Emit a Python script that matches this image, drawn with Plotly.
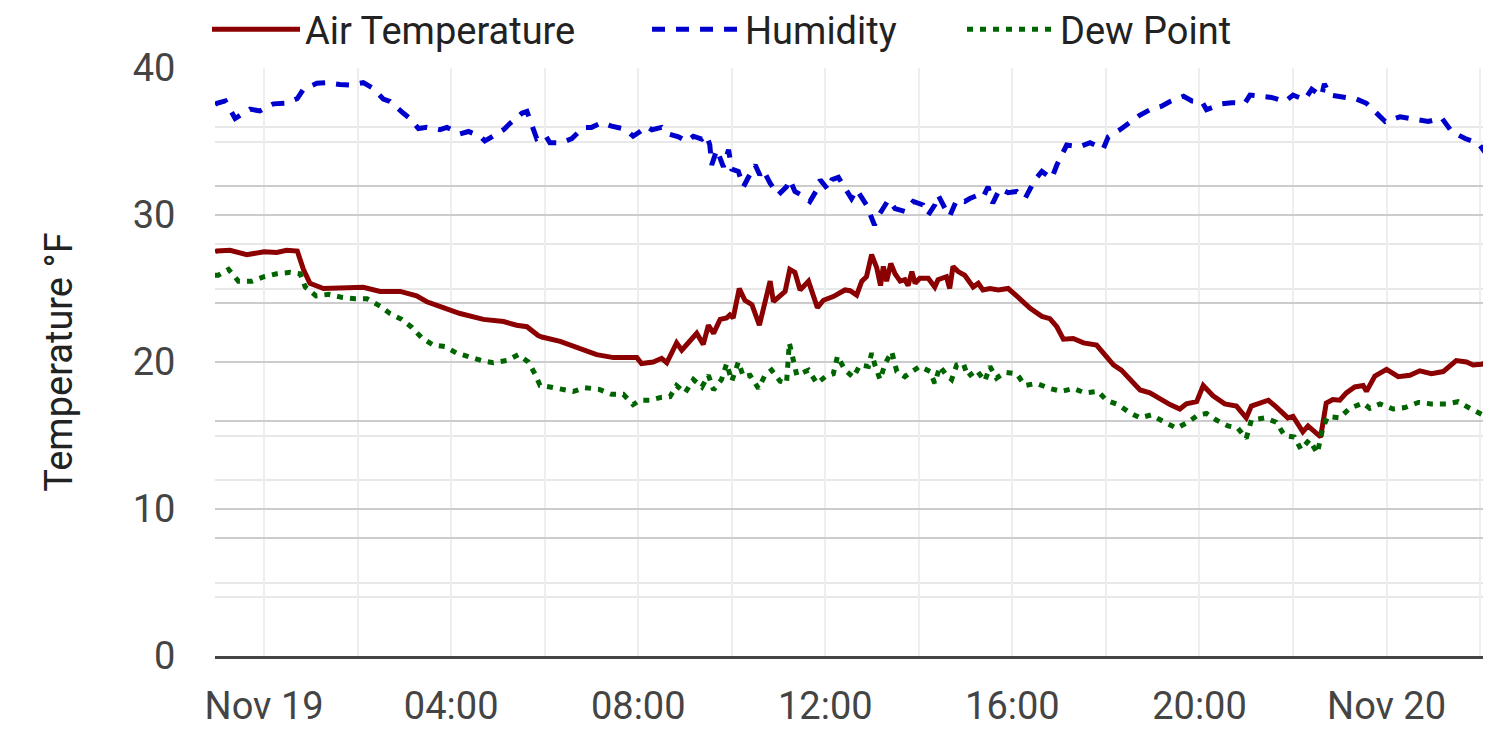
import pandas as pd
import plotly.graph_objects as go

# Reference midnight of Nov 19; sample times are hours relative to it
BASE = "2024-11-19 00:00"

TEMP_HOURS = [-1.05, -1.01, -0.73, -0.37, 0.00, 0.27, 0.48, 0.71, 0.84, 0.98, 1.27, 1.70, 2.12, 2.48, 2.91,
              3.26, 3.48, 3.83, 4.19, 4.69, 5.12, 5.40, 5.62, 5.86, 5.94, 6.33, 6.76, 7.11, 7.47, 7.82,
              7.97, 8.07, 8.32, 8.50, 8.61, 8.82, 8.93, 9.25, 9.39, 9.50, 9.61, 9.75, 9.89, 9.96, 10.03,
              10.16, 10.28, 10.43, 10.59, 10.82, 10.89, 11.14, 11.24, 11.35, 11.46, 11.64, 11.83, 11.96,
              12.17, 12.42, 12.53, 12.67, 12.78, 12.88, 12.99, 13.10, 13.18, 13.24, 13.31, 13.40, 13.49,
              13.60, 13.70, 13.77, 13.85, 13.92, 14.02, 14.20, 14.34, 14.41, 14.59, 14.66, 14.73, 14.84,
              14.98, 15.16, 15.27, 15.37, 15.52, 15.70, 15.91, 16.09, 16.38, 16.63, 16.80, 16.95, 17.09,
              17.30, 17.52, 17.80, 17.94, 18.16, 18.33, 18.51, 18.73, 18.94, 19.15, 19.37, 19.58, 19.72,
              19.94, 20.08, 20.29, 20.54, 20.79, 21.00, 21.11, 21.32, 21.47, 21.64, 21.89, 22.00, 22.21,
              22.32, 22.46, 22.59, 22.71, 22.85, 23.00, 23.14, 23.32, 23.50, 23.57, 23.75, 24.00, 24.25,
              24.50, 24.71, 24.96, 25.21, 25.49, 25.71, 25.85, 26.03, 26.23]
AIR_TEMP = [27.5, 27.55, 27.6, 27.3, 27.5, 27.45, 27.6, 27.55, 26.3, 25.35, 25.0, 25.0, 25.08, 24.8, 24.8,
            24.5, 24.1, 23.7, 23.3, 22.9, 22.75, 22.5, 22.4, 21.8, 21.7, 21.4, 20.9, 20.5, 20.3, 20.25,
            20.3, 19.9, 20.0, 20.25, 19.95, 21.3, 20.8, 21.95, 21.2, 22.5, 21.95, 22.9, 23.0, 23.2, 23.0,
            25.0, 24.2, 23.9, 22.5, 25.5, 24.1, 24.8, 26.3, 26.1, 24.9, 25.5, 23.7, 24.2,
            24.45, 24.9, 24.85, 24.55, 25.5, 25.8, 27.3, 26.4, 25.2, 26.5, 25.5, 26.7, 26.0,
            25.5, 25.6, 25.2, 26.15, 25.35, 25.7, 25.7, 25.1, 25.6, 25.8, 25.0, 26.5, 26.15,
            25.9, 25.1, 25.35, 24.9, 25.0, 24.9, 25.0, 24.5, 23.65, 23.1, 22.95, 22.4, 21.55,
            21.6, 21.3, 21.15, 20.6, 19.8, 19.45, 18.8, 18.1, 17.9, 17.5, 17.1, 16.8, 17.15,
            17.3, 18.4, 17.7, 17.15, 17.0, 16.2, 17.0, 17.2, 17.4, 16.95, 16.2, 16.3, 15.25,
            15.65, 15.25, 14.9, 17.2, 17.45, 17.4, 17.9, 18.3, 18.4, 18.0, 19.05, 19.5, 19.0,
            19.1, 19.4, 19.2, 19.35, 20.1, 20.0, 19.8, 19.85, 20.0]

HUM_HOURS = [-1.05, -1.01, -0.83, -0.62, -0.30, -0.09, 0.20, 0.45, 0.71, 0.84, 1.13, 1.34, 1.62, 1.84, 2.12,
             2.34, 2.55, 2.69, 2.98, 3.12, 3.30, 3.48, 3.76, 3.91, 4.19, 4.37, 4.62, 4.72, 4.87, 5.12,
             5.26, 5.51, 5.62, 5.72, 5.83, 6.01, 6.11, 6.36, 6.58, 6.83, 7.00, 7.22, 7.43, 7.72, 7.89,
             8.04, 8.18, 8.29, 8.50, 8.64, 8.86, 9.04, 9.18, 9.36, 9.46, 9.53, 9.57, 9.68, 9.82, 9.93,
             10.00, 10.14, 10.25, 10.36, 10.50, 10.60, 10.67, 10.82, 10.99, 11.17, 11.24, 11.35, 11.49,
             11.67, 11.82, 11.89, 12.06, 12.14, 12.28, 12.38, 12.56, 12.67, 12.88, 13.05, 13.17, 13.35,
             13.49, 13.70, 13.88, 14.09, 14.20, 14.34, 14.41, 14.56, 14.66, 14.81, 14.98, 15.09, 15.27,
             15.37, 15.48, 15.58, 15.73, 15.91, 16.09, 16.27, 16.48, 16.63, 16.84, 16.95, 17.05, 17.16,
             17.44, 17.66, 17.94, 18.05, 18.30, 18.48, 18.73, 18.94, 19.19, 19.37, 19.55, 19.66, 19.84,
             20.05, 20.15, 20.48, 20.69, 20.97, 21.08, 21.33, 21.54, 21.83, 22.00, 22.25, 22.40, 22.61,
             22.67, 22.79, 23.04, 23.36, 23.57, 23.75, 23.97, 24.29, 24.61, 24.89, 25.18, 25.39, 25.68,
             25.96, 26.12, 26.23]
HUMIDITY = [93.8, 94.0, 94.4, 91.4, 93.0, 92.7, 93.9, 94.0, 94.8, 96.4, 97.4, 97.5, 97.2, 97.1, 97.5,
            96.5, 94.7, 94.3, 92.3, 91.4, 89.7, 89.9, 89.5, 89.9, 88.8, 89.2, 88.4, 87.6, 88.3, 89.5,
            90.6, 92.3, 92.6, 90.3, 88.0, 88.6, 87.3, 87.3, 88.0, 89.9, 89.9, 90.7, 90.1, 89.6, 88.4,
            89.2, 90.1, 89.5, 89.9, 88.8, 88.3, 87.5, 88.4, 87.9, 88.6, 86.9, 83.5, 86.1, 83.2, 86.1,
            82.8, 82.4, 79.8, 81.5, 83.5, 81.8, 82.7, 80.4, 78.4, 79.8, 81.0, 79.0, 78.4,
            77.3, 79.3, 81.0, 79.3, 81.0, 81.4, 80.1, 77.8, 79.3, 76.7, 73.3, 75.3, 77.6,
            76.1, 75.6, 77.3, 76.7, 75.0, 76.7, 78.4, 76.1, 74.8, 77.6, 77.3, 77.8, 78.4,
            78.0, 79.8, 77.0, 79.5, 78.8, 79.0, 77.8, 81.0, 82.4, 81.2, 83.5, 85.2, 86.9,
            86.6, 87.3, 86.2, 88.3, 89.5, 90.6, 92.0, 92.9, 93.5, 94.3, 94.8, 95.2, 94.4,
            94.3, 92.9, 93.9, 94.1, 94.0, 95.4, 95.2, 95.0, 94.3, 95.4, 94.6, 96.4, 95.2,
            97.3, 95.4, 95.0, 94.7, 94.0, 92.6, 90.9, 91.7, 91.2, 90.9, 91.5, 89.2, 88.0,
            87.2, 85.5, 85.2]

DEW_HOURS = [-1.05, -0.98, -0.76, -0.55, -0.26, 0.00, 0.27, 0.56, 0.77, 0.88, 1.11, 1.38, 1.66, 1.95, 2.20,
             2.48, 2.69, 2.94, 3.16, 3.37, 3.62, 3.87, 4.12, 4.40, 4.65, 4.90, 5.19, 5.44, 5.65, 5.79,
             5.90, 6.11, 6.33, 6.61, 6.86, 7.15, 7.43, 7.68, 7.89, 8.04, 8.25, 8.50, 8.68, 8.82, 9.00,
             9.18, 9.36, 9.50, 9.61, 9.78, 9.89, 10.00, 10.14, 10.25, 10.39, 10.57, 10.71, 10.85, 11.03,
             11.17, 11.23, 11.32, 11.39, 11.64, 11.82, 12.00, 12.17, 12.26, 12.42, 12.60, 12.74, 12.92,
             12.99, 13.06, 13.17, 13.28, 13.42, 13.53, 13.70, 13.85, 14.02, 14.24, 14.34, 14.45, 14.59,
             14.70, 14.81, 14.95, 15.05, 15.23, 15.41, 15.52, 15.66, 15.84, 16.09, 16.27, 16.51, 16.80,
             17.05, 17.30, 17.55, 17.83, 18.01, 18.26, 18.51, 18.73, 18.97, 19.26, 19.51, 19.75, 19.97,
             20.15, 20.36, 20.61, 20.82, 21.00, 21.11, 21.40, 21.64, 21.82, 22.03, 22.17, 22.35, 22.52,
             22.63, 22.74, 23.00, 23.21, 23.50, 23.64, 23.86, 24.14, 24.39, 24.68, 24.96, 25.28, 25.53,
             25.78, 26.06, 26.23]
DEW_POINT = [25.9, 25.9, 26.3, 25.5, 25.5, 25.8, 26.0, 26.1, 26.0, 25.1, 24.5, 24.6, 24.4, 24.3, 24.3,
             23.8, 23.3, 22.9, 22.35, 21.65, 21.15, 21.05, 20.6, 20.3, 20.1, 19.95, 20.1, 20.5, 20.0, 19.2,
             18.4, 18.3, 18.15, 18.0, 18.25, 18.15, 17.8, 17.8, 17.1, 17.4, 17.4, 17.6, 17.65, 18.4, 17.9,
             18.8, 18.3, 19.1, 18.1, 18.8, 19.9, 18.7, 20.0, 19.0, 19.1, 18.2, 19.1, 19.45, 18.7,
             18.55, 21.3, 20.0, 19.1, 19.45, 18.55, 19.0, 19.2, 20.4, 19.45, 18.95, 19.8, 19.7,
             20.6, 19.8, 18.8, 19.9, 20.7, 19.35, 19.0, 19.35, 19.7, 19.35, 18.55, 19.7, 19.1,
             18.8, 19.8, 19.9, 19.0, 19.45, 18.7, 19.7, 18.9, 19.3, 19.2, 18.4, 18.55, 18.2,
             18.0, 18.2, 17.9, 18.0, 17.4, 17.1, 16.55, 16.2, 16.4, 15.9, 15.5, 15.9, 16.4,
             16.5, 16.05, 15.65, 15.5, 14.8, 16.05, 16.2, 15.9, 15.0, 14.9, 14.05, 14.7, 13.8,
             15.4, 16.3, 16.2, 16.85, 17.2, 16.85, 17.15, 16.8, 16.9, 17.25, 17.15, 17.15, 17.3,
             16.85, 16.4, 16.3]

X_RANGE = ["2024-11-18 22:57", "2024-11-20 02:14"]
TICK_VALS = ["2024-11-19 00:00", "2024-11-19 02:00", "2024-11-19 04:00", "2024-11-19 06:00",
             "2024-11-19 08:00", "2024-11-19 10:00", "2024-11-19 12:00", "2024-11-19 14:00",
             "2024-11-19 16:00", "2024-11-19 18:00", "2024-11-19 20:00", "2024-11-19 22:00",
             "2024-11-20 00:00", "2024-11-20 02:00"]
TICK_TEXT = ["Nov 19", "", "04:00", "", "08:00", "", "12:00", "", "16:00", "", "20:00", "",
             "Nov 20", ""]

SERIES_NAMES = ["Air Temperature", "Humidity", "Dew Point"]
Y_TITLE = "Temperature °F"


def to_time(hours):
    return pd.Timestamp(BASE) + pd.to_timedelta(pd.Series(hours), unit="h")


LW = 5
FIG_W, FIG_H = 1483, 727
M_L = 207
fig = go.Figure()
fig.add_trace(go.Scatter(x=to_time(TEMP_HOURS), y=AIR_TEMP, name=SERIES_NAMES[0], mode="lines",
                         legend="legend", line=dict(color="#8b0000", width=LW)))
fig.add_trace(go.Scatter(x=to_time(HUM_HOURS), y=HUMIDITY, name=SERIES_NAMES[1], mode="lines",
                         yaxis="y2", legend="legend2",
                         line=dict(color="#0000cd", width=LW, dash="13px,11px")))
fig.add_trace(go.Scatter(x=to_time(DEW_HOURS), y=DEW_POINT, name=SERIES_NAMES[2], mode="lines",
                         legend="legend3", line=dict(color="#006400", width=LW, dash="6px,7px")))

FONT = "Roboto, Arial, sans-serif"
PLOT_W = FIG_W - M_L


def legend_at(px):
    return dict(orientation="h", x=(px - M_L) / PLOT_W, xanchor="left", y=1.012, yanchor="bottom",
                font=dict(size=38, color="#222"), bgcolor="rgba(0,0,0,0)", itemwidth=88)


fig.update_layout(
    width=FIG_W, height=FIG_H,
    margin=dict(l=M_L, r=0, t=60, b=79, autoexpand=False),
    paper_bgcolor="white", plot_bgcolor="white",
    font=dict(family=FONT, size=38, color="#444"),
    showlegend=True,
    legend=legend_at(199),
    legend2=legend_at(639),
    legend3=legend_at(954),
    xaxis=dict(
        type="date", range=X_RANGE, tickmode="array", tickvals=TICK_VALS, ticktext=TICK_TEXT,
        showgrid=True, gridcolor="#eeeeee", gridwidth=2,
        showline=True, linecolor="#444", linewidth=2.5,
        ticks="outside", ticklen=15, tickcolor="rgba(0,0,0,0)",
        tickfont=dict(size=38, color="#444"), zeroline=False,
    ),
    yaxis=dict(
        range=[0, 40], tickmode="linear", tick0=0, dtick=10,
        showgrid=True, gridcolor="#cccccc", gridwidth=2,
        minor=dict(dtick=5, showgrid=True, gridcolor="#e8e8e8", gridwidth=2),
        zeroline=False, showline=False,
        ticks="outside", ticklen=31, tickcolor="rgba(0,0,0,0)",
        tickfont=dict(size=38, color="#444"),
        title=dict(text=Y_TITLE, font=dict(size=38, color="#222"), standoff=48),
    ),
    yaxis2=dict(
        range=[0, 100], overlaying="y", side="right", tickmode="linear", tick0=0, dtick=20,
        showgrid=True, gridcolor="#cccccc", gridwidth=2,
        minor=dict(dtick=10, showgrid=True, gridcolor="#e8e8e8", gridwidth=2),
        showticklabels=False, zeroline=False, showline=False,
    ),
)

fig.write_html("out.html")
